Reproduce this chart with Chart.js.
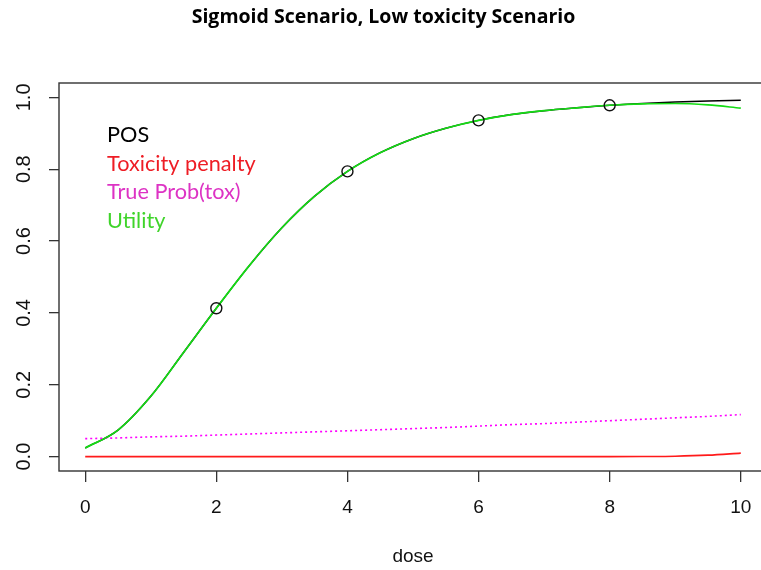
<!DOCTYPE html>
<html>
<head>
<meta charset="utf-8">
<script src="https://cdn.jsdelivr.net/npm/chart.js@4"></script>
<style>
  html, body { margin: 0; padding: 0; background: #fff; overflow: hidden; }
  #wrap { width: 780px; height: 570px; }
</style>
</head>
<body>
<div id="wrap"><canvas id="sigmoid-chart" width="780" height="570"></canvas></div>
<script>
let chartCanvas = document.getElementById("sigmoid-chart");

// Values, dose steps of 0.5
const dose = [0, 0.5, 1, 1.5, 2, 2.5, 3, 3.5, 4, 4.5, 5, 5.5, 6, 6.5, 7, 7.5, 8, 8.5, 9, 9.5, 10];
const pos = [0.024, 0.074, 0.168, 0.290, 0.413, 0.531, 0.637, 0.725, 0.794, 0.846, 0.885, 0.914, 0.936, 0.952, 0.963, 0.971, 0.978, 0.983, 0.987, 0.990, 0.992];
const toxPenalty = [0, 0, 0, 0, 0, 0, 0, 0, 0, 0, 0, 0, 0, 0, 0, 0, 0, 0.0003, 0.001, 0.004, 0.010];
const trueProbTox = [0.050, 0.052, 0.055, 0.057, 0.060, 0.063, 0.066, 0.069, 0.072, 0.075, 0.078, 0.081, 0.085, 0.089, 0.092, 0.096, 0.100, 0.104, 0.108, 0.112, 0.117];
const utility = [0.024, 0.074, 0.168, 0.290, 0.413, 0.531, 0.637, 0.725, 0.794, 0.846, 0.885, 0.914, 0.936, 0.952, 0.963, 0.971, 0.978, 0.982, 0.983, 0.979, 0.970];

// observed POS points (circles)
const obsDose = [2, 4, 6, 8];
const obsPos = [0.413, 0.794, 0.936, 0.978];

const xTicks = [0, 2, 4, 6, 8, 10];
const yTicks = [0, 0.2, 0.4, 0.6, 0.8, 1.0];

const legendLabels = ["POS", "Toxicity penalty", "True Prob(tox)", "Utility"];
const legendColors = ["#000000", "#ee1d25", "#dd33c4", "#3fd42a"];

function pairs(xs, ys) {
    return xs.map((x, i) => ({ x: x, y: ys[i] }));
}

Chart.defaults.font.family = "'Liberation Sans', Arial, sans-serif";
Chart.defaults.color = "#000";

// full R-style box round the plot region (its right side is past the window edge)
const plotBox = {
    id: 'plotBox',
    afterDatasetsDraw(chart) {
        const a = chart.chartArea;
        const ctx = chart.ctx;
        ctx.save();
        ctx.strokeStyle = '#333';
        ctx.lineWidth = 1.4;
        ctx.strokeRect(a.left, a.top, a.right - a.left, a.bottom - a.top);
        ctx.restore();
    }
};

// legend text only, no symbols
const textLegend = {
    id: 'textLegend',
    afterDraw(chart) {
        const a = chart.chartArea;
        const ctx = chart.ctx;
        ctx.save();
        ctx.font = "21.7px Lato, 'Open Sans', sans-serif";
        ctx.textAlign = 'left';
        ctx.textBaseline = 'alphabetic';
        legendLabels.forEach((lab, i) => {
            ctx.fillStyle = legendColors[i];
            ctx.fillText(lab, a.left + 48, a.top + 59 + i * 28.7);
        });
        ctx.restore();
    }
};

let sigmoidChart = new Chart(chartCanvas, {
    type: 'line',
    data: {
        datasets: [
            {
                label: 'obs',
                type: 'scatter',
                data: pairs(obsDose, obsPos),
                showLine: false,
                pointRadius: 5.5,
                pointBorderWidth: 1.4,
                pointBorderColor: '#111',
                pointBackgroundColor: 'rgba(0,0,0,0)',
                order: 0
            },
            {
                label: legendLabels[3],
                data: pairs(dose, utility),
                borderColor: 'rgb(20, 220, 20)',
                borderWidth: 1.7,
                pointRadius: 0,
                cubicInterpolationMode: 'monotone',
                order: 1
            },
            {
                label: legendLabels[1],
                data: pairs(dose, toxPenalty),
                borderColor: '#ff1a1a',
                borderWidth: 1.7,
                pointRadius: 0,
                cubicInterpolationMode: 'monotone',
                order: 2
            },
            {
                label: legendLabels[2],
                data: pairs(dose, trueProbTox),
                borderColor: '#ff00ff',
                borderWidth: 1.6,
                borderDash: [2, 3],
                pointRadius: 0,
                cubicInterpolationMode: 'monotone',
                order: 3
            },
            {
                label: legendLabels[0],
                data: pairs(dose, pos),
                borderColor: '#000',
                borderWidth: 1.5,
                pointRadius: 0,
                cubicInterpolationMode: 'monotone',
                order: 4
            }
        ]
    },
    options: {
        responsive: false,
        animation: false,
        events: [],
        layout: {
            padding: { left: 0, right: 13, top: 0, bottom: 0 }
        },
        scales: {
            x: {
                type: 'linear',
                min: -0.4,
                max: 10.4,
                afterFit(scale) { scale.height = 99; },
                afterBuildTicks(scale) { scale.ticks = xTicks.map(v => ({ value: v })); },
                ticks: {
                    font: { size: 19 },
                    padding: 14,
                    maxRotation: 0,
                    color: '#111'
                },
                grid: {
                    drawOnChartArea: false,
                    drawTicks: true,
                    tickLength: 11,
                    color: '#333',
                    lineWidth: 1.3
                },
                border: { display: false },
                title: {
                    display: true,
                    text: 'dose',
                    font: { size: 19 },
                    color: '#111',
                    padding: { top: 0, bottom: 2 }
                }
            },
            y: {
                type: 'linear',
                min: -0.04,
                max: 1.04,
                afterFit(scale) { scale.width = 59; },
                afterBuildTicks(scale) { scale.ticks = yTicks.map(v => ({ value: v })); },
                ticks: {
                    font: { size: 20 },
                    minRotation: 90,
                    maxRotation: 90,
                    crossAlign: 'center',
                    padding: 11,
                    color: '#111',
                    callback: v => v.toFixed(1)
                },
                grid: {
                    drawOnChartArea: false,
                    drawTicks: true,
                    tickLength: 10,
                    color: '#333',
                    lineWidth: 1.3
                },
                border: { display: false }
            }
        },
        plugins: {
            legend: { display: false },
            tooltip: { enabled: false },
            title: {
                display: true,
                text: 'Sigmoid Scenario, Low toxicity Scenario',
                color: '#000',
                font: { family: "'Open Sans', Lato, sans-serif", size: 19.5, weight: 'bold' },
                padding: { top: 6, bottom: 53.6 }
            }
        }
    },
    plugins: [plotBox, textLegend]
});
</script>
</body>
</html>
